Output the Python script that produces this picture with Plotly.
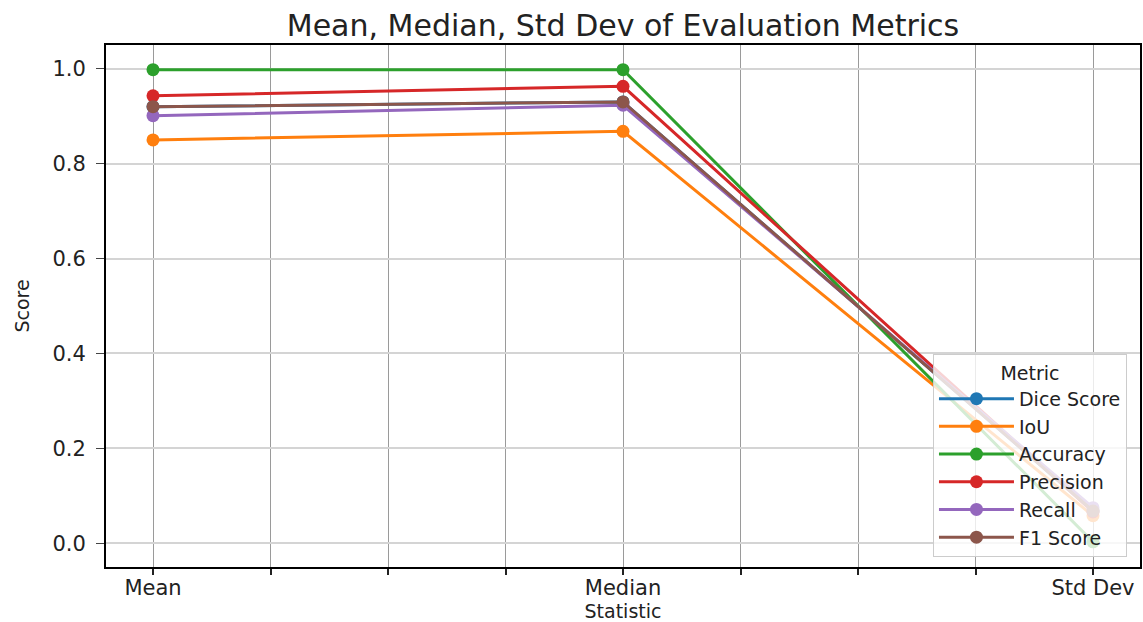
import plotly.graph_objects as go

statistics = ["Mean", "Median", "Std Dev"]
x_pos = [0, 1, 2]
metrics = ["Dice Score", "IoU", "Accuracy", "Precision", "Recall", "F1 Score"]
dice = [0.920, 0.930, 0.068]
iou = [0.850, 0.868, 0.058]
accuracy = [0.998, 0.998, 0.003]
precision = [0.943, 0.963, 0.066]
recall = [0.901, 0.923, 0.075]
f1 = [0.920, 0.930, 0.068]
series = [dice, iou, accuracy, precision, recall, f1]
colors = ["#1f77b4", "#ff7f0e", "#2ca02c", "#d62728", "#9467bd", "#8c564b"]

x_tickvals = [0, 0.25, 0.5, 0.75, 1, 1.25, 1.5, 1.75, 2]
x_ticktext = ["Mean", "", "", "", "Median", "", "", "", "Std Dev"]
y_tickvals = [0.0, 0.2, 0.4, 0.6, 0.8, 1.0]
y_ticktext = ["0.0", "0.2", "0.4", "0.6", "0.8", "1.0"]

FONT = "DejaVu Sans"
fig = go.Figure()
for name, vals, col in zip(metrics, series, colors):
    fig.add_trace(go.Scatter(
        x=x_pos, y=vals, name=name, mode="lines+markers",
        line=dict(color=col, width=3),
        marker=dict(color=col, size=13),
    ))

fig.update_layout(
    width=1143, height=622,
    margin=dict(l=106, r=3, t=45, b=55, autoexpand=False),
    paper_bgcolor="white", plot_bgcolor="white",
    font=dict(family=FONT, color="#222222", size=20),
    title=dict(text="Mean, Median, Std Dev of Evaluation Metrics",
               font=dict(family=FONT, size=30, color="#222222"),
               x=0.5, xref="paper", xanchor="center",
               y=1 - 25 / 622, yref="container", yanchor="middle"),
    showlegend=True,
    legend=dict(
        x=0.9874, y=0.019, xanchor="right", yanchor="bottom",
        bgcolor="rgba(255,255,255,0.8)", bordercolor="#cccccc", borderwidth=1,
        font=dict(family=FONT, size=19, color="#222222"),
        title=dict(text="Metric", side="top center",
                   font=dict(family=FONT, size=19, color="#222222")),
        tracegroupgap=0, itemwidth=75,
    ),
)

fig.update_xaxes(
    range=[-0.1, 2.1], tickmode="array", tickvals=x_tickvals, ticktext=x_ticktext,
    showgrid=True, gridcolor="#9a9a9a", gridwidth=1,
    showline=True, linecolor="black", linewidth=2, mirror=True,
    ticks="outside", ticklen=6, tickwidth=2, tickcolor="#222222",
    ticklabelstandoff=-5,
    zeroline=False,
    tickfont=dict(family=FONT, size=21, color="#222222"),
    title=dict(text="Statistic", font=dict(family=FONT, size=19, color="#222222"), standoff=1),
)
fig.update_yaxes(
    range=[-0.05, 1.05], tickmode="array", tickvals=y_tickvals, ticktext=y_ticktext,
    showgrid=True, gridcolor="#d4d4d4", gridwidth=2,
    showline=True, linecolor="black", linewidth=2, mirror=True,
    ticks="outside", ticklen=8, tickwidth=1, tickcolor="#444444",
    ticklabelstandoff=6,
    zeroline=False,
    tickfont=dict(family=FONT, size=21, color="#222222"),
    title=dict(text="Score", font=dict(family="Liberation Sans Narrow, DejaVu Sans", size=19, color="#222222"), standoff=18),
)

fig.write_html("out.html")
